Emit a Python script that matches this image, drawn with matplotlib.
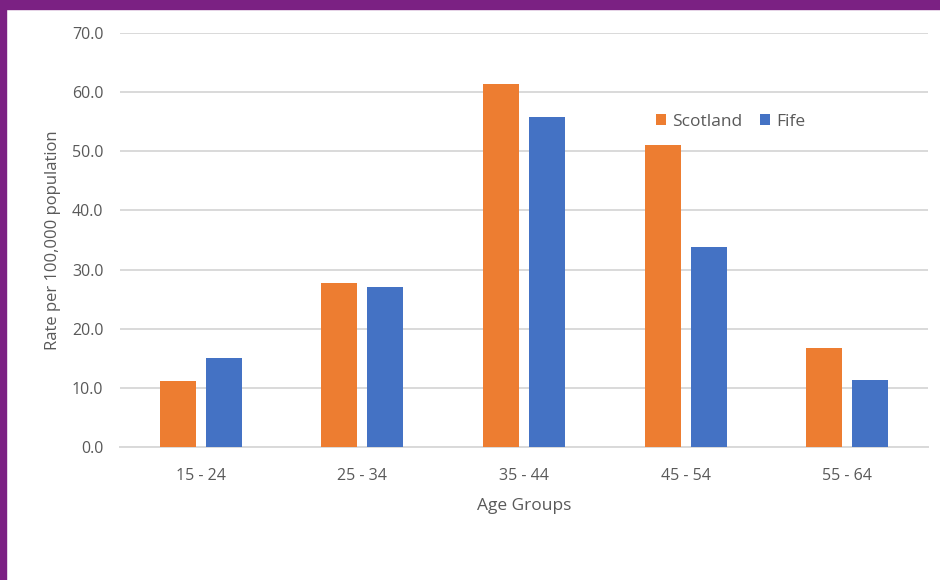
import matplotlib
matplotlib.use("Agg")
import matplotlib.pyplot as plt
import numpy as np
from matplotlib.patches import Rectangle

age_groups = ["15 - 24", "25 - 34", "35 - 44", "45 - 54", "55 - 64"]
scotland = [11.2, 27.7, 61.4, 51.1, 16.7]
fife = [15.0, 27.0, 55.8, 33.8, 11.4]
y_ticks = [0, 10, 20, 30, 40, 50, 60, 70]

orange = "#ED7D31"
blue = "#4472C4"
grey_text = "#595959"
grid_col = "#D9D9D9"
purple = "#7B2183"

plt.rcParams["font.family"] = ["Open Sans", "DejaVu Sans"]

fig = plt.figure(figsize=(9.4, 5.8), dpi=100)
W, H = 940, 580
ax = fig.add_axes([120 / W, 133 / H, 808 / W, 414 / H])

x = np.arange(len(age_groups))
bw = 0.223
off = 0.142
ax.bar(x - off, scotland, bw, color=orange, label="Scotland", zorder=3)
ax.bar(x + off, fife, bw, color=blue, label="Fife", zorder=3)

ax.set_xlim(-0.5, len(age_groups) - 0.5)
ax.set_ylim(0, 70)
ax.set_yticks(y_ticks)
ax.set_yticklabels([f"{v:.1f}" for v in y_ticks])
ax.set_xticks(x)
ax.set_xticklabels(age_groups)
ax.tick_params(axis="both", length=0, labelsize=11.5, colors=grey_text)
ax.tick_params(axis="y", pad=12)
ax.tick_params(axis="x", pad=15)
ax.yaxis.grid(True, color=grid_col, linewidth=1.4, zorder=0)
for s in ["top", "right", "left"]:
    ax.spines[s].set_visible(False)
ax.spines["bottom"].set_color(grid_col)
ax.spines["bottom"].set_linewidth(1.4)

ax.set_xlabel("Age Groups", fontsize=12.5, color=grey_text, labelpad=10)
ax.set_ylabel("Rate per 100,000 population", fontsize=12, color=grey_text, labelpad=8)

leg = ax.legend(loc="center left", bbox_to_anchor=(0.663, 0.785), ncol=2, frameon=False,
                fontsize=12.5, handlelength=0.6, handleheight=0.6, handletextpad=0.35,
                columnspacing=1.0, borderpad=0, borderaxespad=0, labelcolor=grey_text)

# purple frame along top and left edges
fig.add_artist(Rectangle((0, 1 - 9 / H), 1, 9 / H, transform=fig.transFigure,
                         color=purple, zorder=10))
fig.add_artist(Rectangle((0, 0), 6 / W, 1, transform=fig.transFigure,
                         color=purple, zorder=10))

fig.savefig("out.png", dpi=100)
